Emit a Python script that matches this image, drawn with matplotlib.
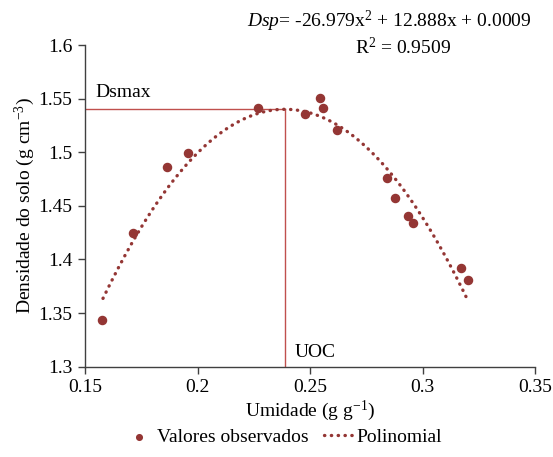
import numpy as np
import matplotlib
matplotlib.use("Agg")
import matplotlib.pyplot as plt

plt.rcParams['font.family'] = ['Liberation Serif', 'DejaVu Serif']
plt.rcParams['font.size'] = 14
plt.rcParams['mathtext.fontset'] = 'custom'
plt.rcParams['mathtext.rm'] = 'Liberation Serif'
plt.rcParams['mathtext.it'] = 'Liberation Serif:italic'

umidade = [0.1574, 0.1715, 0.1866, 0.1959, 0.2268, 0.2479, 0.2544, 0.2556,
           0.2621, 0.2841, 0.2879, 0.2934, 0.2956, 0.3170, 0.3204]
densidade = [1.344, 1.425, 1.4865, 1.499, 1.541, 1.5356, 1.5506, 1.541,
             1.521, 1.4756, 1.457, 1.4408, 1.4337, 1.3917, 1.3808]

# Polynomial trend line as printed on the chart
coef = [-26.979, 12.888, 0.0009]
fit_range = [0.158, 0.3205]
uoc = 0.2389
dsmax = 1.5401

x_ticks = [0.15, 0.2, 0.25, 0.3, 0.35]
y_ticks = [1.3, 1.35, 1.4, 1.45, 1.5, 1.55, 1.6]

point_color = '#943634'
line_color = '#C0504D'

fig = plt.figure(figsize=(5.53, 4.57), dpi=100)
ax = fig.add_axes([0.1537, 0.1976, 0.8138, 0.7039])

# reference lines for Dsmax and UOC
ax.plot([0.15, uoc], [dsmax, dsmax], color=line_color, linewidth=1.0, zorder=1)
ax.plot([uoc, uoc], [1.3, dsmax], color=line_color, linewidth=1.0, zorder=1)

ax.scatter(umidade, densidade, s=34, color=point_color, zorder=3,
           label='Valores observados')

xs = np.linspace(fit_range[0], fit_range[1], 200)
ax.plot(xs, np.polyval(coef, xs), color=point_color, linewidth=2.4,
        linestyle=(0, (0.1, 1.95)), dash_capstyle='round', zorder=2,
        label='Polinomial')

ax.set_xlim(0.15, 0.35)
ax.set_ylim(1.3, 1.6)
ax.set_xticks(x_ticks)
ax.set_xticklabels([f'{v:g}' for v in x_ticks])
ax.set_yticks(y_ticks)
ax.set_yticklabels([f'{v:g}' for v in y_ticks])

for side in ['top', 'right']:
    ax.spines[side].set_visible(False)
for side in ['left', 'bottom']:
    ax.spines[side].set_color('#404040')
    ax.spines[side].set_linewidth(1.0)
ax.tick_params(direction='out', length=5, width=1.0, color='#404040',
               labelsize=14, pad=4)

ax.set_xlabel('Umidade (g g$^{-1}$)', fontsize=14, labelpad=2)
ax.set_ylabel('Densidade do solo (g cm$^{-3}$)', fontsize=14, labelpad=1)

ax.text(0.1544, 1.5515, 'Dsmax', fontsize=14)
ax.text(0.2433, 1.309, 'UOC', fontsize=14)

fig.text(0.704, 0.954, r'$\mathit{Dsp}$= -26.979x$^2$ + 12.888x + 0.0009',
         ha='center', va='center', fontsize=14)
fig.text(0.729, 0.896, 'R$^2$ = 0.9509', ha='center', va='center', fontsize=14)

leg = fig.legend(loc='center', bbox_to_anchor=(0.512, 0.044), ncol=2,
                 frameon=False, fontsize=14, handlelength=1.5,
                 handletextpad=0.15, columnspacing=0.8, markerscale=0.7,
                 borderpad=0.1)

fig.savefig('out.png', dpi=100)
